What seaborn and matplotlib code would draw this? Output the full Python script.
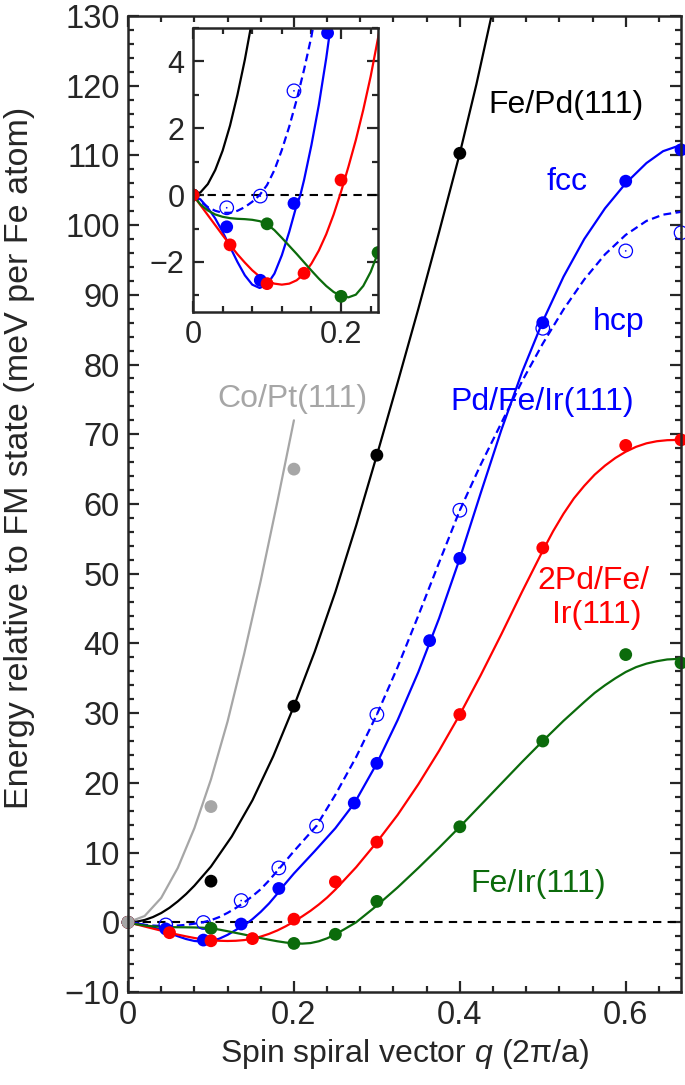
import numpy as np
import pandas as pd
import matplotlib
matplotlib.use("Agg")
import matplotlib.pyplot as plt
from matplotlib.ticker import MultipleLocator, FixedLocator, FixedFormatter
import seaborn as sns

# ---- calculated points ----
q_copt = [0, 0.1, 0.2]
e_copt = [0, 16.6, 65.0]
q_fepd = [0, 0.1, 0.2, 0.3, 0.4]
e_fepd = [0, 5.9, 31.0, 67.0, 110.3]
q_fcc = [0, 0.0455, 0.0909, 0.1364, 0.1818, 0.2727, 0.3, 0.3636, 0.4, 0.5, 0.6, 0.6667]
e_fcc = [0, -0.95, -2.55, -0.25, 4.85, 17.1, 22.8, 40.4, 52.2, 86.0, 106.3, 110.8]
q_hcp = [0.0455, 0.0909, 0.1364, 0.1818, 0.2273, 0.3, 0.4, 0.5, 0.6, 0.6667]
e_hcp = [-0.38, -0.03, 3.12, 7.8, 13.8, 29.8, 59.1, 85.2, 96.3, 98.9]
q_2pd = [0, 0.05, 0.1, 0.15, 0.2, 0.25, 0.3, 0.4, 0.5, 0.6, 0.6667]
e_2pd = [0, -1.49, -2.65, -2.34, 0.45, 5.8, 11.5, 29.8, 53.7, 68.4, 69.2]
q_feir = [0, 0.1, 0.2, 0.25, 0.3, 0.4, 0.5, 0.6, 0.6667]
e_feir = [0, -0.86, -3.03, -1.72, 3.0, 13.7, 26.0, 38.4, 37.2]

# ---- fitted curves ----
qf_copt = [0, 0.02, 0.04, 0.06, 0.08, 0.1, 0.12, 0.14, 0.16, 0.18, 0.2]
ef_copt = [0, 0.9, 3.5, 7.8, 13.5, 20.5, 28.8, 38.5, 49.0, 60.3, 72.0]
qf_fepd = [0, 0.01, 0.02, 0.03, 0.04, 0.05, 0.06, 0.07, 0.08, 0.1, 0.125,
           0.15, 0.175, 0.2, 0.225, 0.25, 0.275, 0.3, 0.325, 0.35, 0.375,
           0.4, 0.42, 0.44]
ef_fepd = [0, 0.08, 0.33, 0.75, 1.33, 2.08, 3.0, 4.05, 5.25, 8.0, 12.3,
           17.5, 23.8, 31.0, 38.8, 47.4, 56.9, 67.0, 77.4, 88.0, 99.0,
           110.3, 120.2, 131.0]
qf_fcc = [0, 0.01, 0.02, 0.03, 0.04, 0.05, 0.06, 0.07, 0.08, 0.09, 0.1, 0.11,
          0.12, 0.13, 0.14, 0.145, 0.15, 0.16, 0.17, 0.18, 0.185, 0.19, 0.2,
          0.225, 0.25, 0.273, 0.3, 0.325, 0.35, 0.375, 0.4, 0.425, 0.45,
          0.475, 0.5, 0.525, 0.55, 0.575, 0.6, 0.625, 0.645, 0.6667]
ef_fcc = [0, -0.13, -0.38, -0.7, -1.1, -1.55, -2.0, -2.4, -2.68, -2.78, -2.68,
          -2.35, -1.8, -1.1, -0.3, 0.0, 0.45, 1.5, 2.7, 4.1, 4.9, 5.6, 7.0,
          10.2, 13.5, 17.1, 22.8, 29.0, 35.9, 43.6, 52.2, 61.5, 70.6,
          78.9, 86.2, 92.6, 98.0, 102.4, 106.0, 108.9, 110.6, 111.5]
qf_hcp = [0, 0.01, 0.02, 0.03, 0.04, 0.05, 0.06, 0.07, 0.08, 0.09, 0.1, 0.11,
          0.12, 0.13, 0.14, 0.15, 0.16, 0.17, 0.183, 0.2, 0.227, 0.25, 0.275,
          0.3, 0.325, 0.35, 0.375, 0.4, 0.425, 0.45, 0.475, 0.5, 0.525, 0.55,
          0.575, 0.6, 0.625, 0.645, 0.6667]
ef_hcp = [0, -0.2, -0.36, -0.47, -0.53, -0.53, -0.47, -0.36, -0.2, 0.0, 0.3,
          0.75, 1.35, 2.05, 2.85, 3.75, 4.75, 6.0, 7.8, 10.2, 13.8, 18.3, 23.7,
          29.8, 36.6, 44.0, 51.6, 59.1, 65.6, 71.6, 77.6, 83.0, 87.9, 92.2,
          95.8, 98.6, 100.6, 101.5, 101.9]
qf_2pd = [0, 0.01, 0.02, 0.03, 0.04, 0.05, 0.06, 0.07, 0.08, 0.09, 0.1, 0.11,
          0.12, 0.13, 0.14, 0.15, 0.16, 0.17, 0.18, 0.19, 0.2, 0.21, 0.22, 0.23,
          0.24, 0.25, 0.275, 0.3, 0.325, 0.35, 0.375, 0.4, 0.425, 0.45, 0.475,
          0.5, 0.5125, 0.525, 0.5375, 0.55, 0.5625, 0.575, 0.5875, 0.6, 0.6125,
          0.625, 0.6375, 0.65, 0.6667]
ef_2pd = [0, -0.3, -0.6, -0.9, -1.2, -1.49, -1.77, -2.02, -2.25, -2.44, -2.57,
          -2.65, -2.68, -2.65, -2.55, -2.36, -2.05, -1.66, -1.17, -0.58, 0.1,
          0.85, 1.65, 2.55, 3.55, 4.7, 7.9, 11.5, 15.4, 19.8, 24.6, 29.8, 35.4,
          41.3, 47.4, 53.3, 56.1, 58.6, 60.8, 62.6, 64.2, 65.5, 66.6, 67.5,
          68.2, 68.7, 69.0, 69.15, 69.2]
qf_feir = [0, 0.01, 0.02, 0.03, 0.04, 0.05, 0.06, 0.07, 0.08, 0.09, 0.1, 0.11,
           0.12, 0.13, 0.14, 0.15, 0.16, 0.17, 0.18, 0.19, 0.2, 0.21, 0.22,
           0.23, 0.24, 0.25, 0.26, 0.275, 0.3, 0.325, 0.35, 0.375, 0.4, 0.425,
           0.45, 0.475, 0.5, 0.525, 0.55, 0.5625, 0.575, 0.5875, 0.6, 0.6125,
           0.625, 0.6375, 0.65, 0.6667]
ef_feir = [0, -0.28, -0.46, -0.58, -0.65, -0.69, -0.71, -0.72, -0.74, -0.78,
           -0.87, -1.05, -1.28, -1.52, -1.76, -2.01, -2.26, -2.5, -2.72, -2.9,
           -3.02, -3.06, -2.98, -2.72, -2.3, -1.72, -1.05, 0.0, 2.4, 5.0, 7.8,
           10.7, 13.7, 16.8, 19.9, 23.0, 26.0, 28.9, 31.6, 32.9, 34.0, 35.0,
           35.9, 36.6, 37.1, 37.45, 37.7, 37.8]

blue = "#0000ff"
red = "#ff0000"
green = "#0b6b0b"
gray = "#a6a6a6"

sns.set_style("ticks")
plt.rcParams["font.family"] = ["Liberation Sans", "DejaVu Sans"]
plt.rcParams["mathtext.fontset"] = "custom"
plt.rcParams["mathtext.it"] = "Liberation Sans:italic"

fig = plt.figure(figsize=(6.85, 10.85), dpi=100)
ax = fig.add_axes([0.1869, 0.0857, 0.8073, 0.8996])
axin = fig.add_axes([0.2818, 0.7124, 0.2701, 0.2618])


def draw(a, inset):
    a.axhline(0, color="black", ls=(0, (4, 3)), lw=1.5, zorder=1)
    curves = [
        (qf_fepd, ef_fepd, "black", "-"),
        (qf_hcp, ef_hcp, blue, (0, (3.5, 2))),
        (qf_fcc, ef_fcc, blue, "-"),
        (qf_2pd, ef_2pd, red, "-"),
        (qf_feir, ef_feir, green, "-"),
    ]
    pts = [
        (q_fepd, e_fepd, "black"),
        (q_fcc, e_fcc, blue),
        (q_feir, e_feir, green),
        (q_2pd, e_2pd, red),
    ]
    if not inset:
        curves.insert(0, (qf_copt, ef_copt, gray, "-"))
        pts.append((q_copt, e_copt, gray))
    for qq, ee, c, ls in curves:
        sns.lineplot(x=qq, y=ee, color=c, lw=1.6, ls=ls, sort=False,
                     estimator=None, ax=a, zorder=2)
    for qq, ee, c in pts:
        sns.scatterplot(x=qq, y=ee, color=c, s=85, edgecolor="none", ax=a,
                        zorder=4, clip_on=inset)
    sns.scatterplot(x=q_hcp, y=e_hcp, facecolor="none", edgecolor=blue,
                    linewidth=0.9, s=95, ax=a, zorder=3, clip_on=inset)
    sns.scatterplot(x=q_hcp, y=e_hcp, color=blue, s=1.5, edgecolor="none",
                    ax=a, zorder=3, clip_on=inset)


draw(ax, False)
draw(axin, True)

for a in (ax, axin):
    for sp in a.spines.values():
        sp.set_linewidth(1.8)
        sp.set_zorder(5)
    a.tick_params(which="both", direction="in", top=True, right=True,
                  width=1.6, labelsize=23.5, pad=6)
    a.tick_params(which="major", length=8)
    a.tick_params(which="minor", length=4.5)

ax.set_xlim(0, 2 / 3)
ax.set_ylim(-10, 130)
ax.xaxis.set_major_locator(FixedLocator([0, 0.2, 0.4, 0.6]))
ax.xaxis.set_major_formatter(FixedFormatter(["0", "0.2", "0.4", "0.6"]))
ax.xaxis.set_minor_locator(MultipleLocator(0.04))
ax.yaxis.set_major_locator(MultipleLocator(10))
ax.yaxis.set_minor_locator(MultipleLocator(2))
ax.set_xlabel("Spin spiral vector $q$ (2\u03c0/a)", fontsize=23, labelpad=4)
ax.set_ylabel("Energy relative to FM state (meV per Fe atom)", fontsize=24.5)
ax.yaxis.set_label_coords(-0.168, 0.547)

axin.set_xlim(0, 0.25)
axin.set_ylim(-3.5, 5)
axin.xaxis.set_major_locator(FixedLocator([0, 0.2]))
axin.xaxis.set_major_formatter(FixedFormatter(["0", "0.2"]))
axin.xaxis.set_minor_locator(MultipleLocator(0.04))
axin.yaxis.set_major_locator(MultipleLocator(2))
axin.yaxis.set_minor_locator(MultipleLocator(1))
axin.tick_params(labelsize=22)
axin.set_facecolor("white")
axin.set_zorder(6)

fs = 23
ax.text(0.528, 116.1, "Fe/Pd(111)", color="black", fontsize=fs, ha="center")
ax.text(0.529, 105.0, "fcc", color=blue, fontsize=fs, ha="center")
ax.text(0.591, 84.9, "hcp", color=blue, fontsize=fs, ha="center")
ax.text(0.4997, 73.5, "Pd/Fe/Ir(111)", color=blue, fontsize=fs, ha="center")
ax.text(0.198, 73.9, "Co/Pt(111)", color=gray, fontsize=fs, ha="center")
ax.text(0.561, 47.8, "2Pd/Fe/", color=red, fontsize=fs, ha="center")
ax.text(0.565, 42.9, "Ir(111)", color=red, fontsize=fs, ha="center")
ax.text(0.494, 4.4, "Fe/Ir(111)", color=green, fontsize=fs, ha="center")

fig.savefig("out.png", dpi=100)
